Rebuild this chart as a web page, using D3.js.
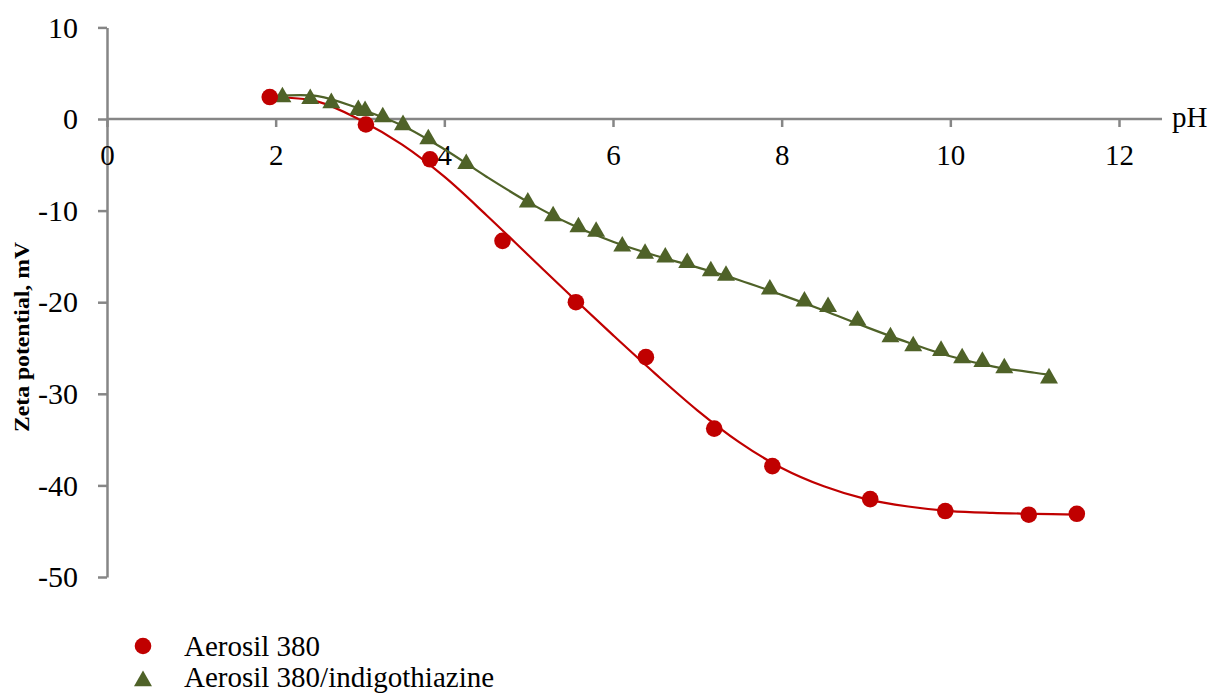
<!DOCTYPE html>
<html>
<head>
<meta charset="utf-8">
<script src="https://cdn.jsdelivr.net/npm/d3@7"></script>
<style>
  html, body { margin: 0; padding: 0; background: #fff; }
  svg { display: block; }
  text { font-family: "Liberation Serif", "Times New Roman", serif; fill: #000; }
</style>
</head>
<body>
<svg id="chart" width="1220" height="695"></svg>
<script>
// ---- data ----
const seriesNames = ["Aerosil 380", "Aerosil 380/indigothiazine"];

const aerosilPH   = [1.93, 3.07, 3.83, 4.69, 5.56, 6.39, 7.20, 7.89, 9.05, 9.94, 10.93, 11.50];
const aerosilZeta = [2.4, -0.6, -4.4, -13.3, -20.0, -26.0, -33.8, -37.9, -41.5, -42.8, -43.2, -43.1];

const indigoPH   = [2.08, 2.41, 2.66, 2.98, 3.06, 3.27, 3.51, 3.81, 4.26, 4.99, 5.29, 5.59, 5.80, 6.11, 6.38, 6.62, 6.88, 7.16, 7.34, 7.86, 8.27, 8.55, 8.90, 9.29, 9.56, 9.89, 10.14, 10.38, 10.64, 11.17];
const indigoZeta = [2.4, 2.2, 1.75, 1.0, 0.9, 0.2, -0.65, -2.2, -4.9, -9.1, -10.6, -11.8, -12.3, -13.9, -14.7, -15.1, -15.7, -16.6, -17.1, -18.6, -19.9, -20.5, -22.0, -23.8, -24.8, -25.3, -26.1, -26.5, -27.2, -28.3];

// fitted trend lines
const aerosilTrendPH   = [1.93, 2.5, 3.0, 3.5, 4.0, 4.5, 5.0, 5.5, 6.0, 6.5, 7.0, 7.5, 8.0, 8.5, 9.0, 9.5, 10.0, 10.5, 11.0, 11.5];
const aerosilTrendZeta = [2.4, 1.9, -0.1, -2.8, -6.3, -10.5, -14.9, -19.3, -23.6, -27.8, -31.8, -35.3, -38.1, -40.1, -41.5, -42.3, -42.8, -43.0, -43.1, -43.2];

const indigoTrendPH   = [2.0, 2.5, 3.0, 3.5, 4.0, 4.5, 5.0, 5.5, 6.0, 6.5, 7.0, 7.5, 8.0, 8.5, 9.0, 9.5, 10.0, 10.5, 11.0, 11.17];
const indigoTrendZeta = [2.5, 2.5, 1.1, -0.7, -3.3, -6.3, -9.1, -11.5, -13.4, -14.9, -16.2, -17.6, -19.2, -20.9, -22.7, -24.4, -25.9, -27.0, -27.7, -27.9];

const xTicks = [0, 2, 4, 6, 8, 10, 12];
const yTicks = [10, 0, -10, -20, -30, -40, -50];

const xAxisLabel = "pH";
const yAxisLabel = "Zeta potential, mV";

// ---- layout ----
const svg = d3.select("#chart");
const colors = { red: "#C00000", green: "#4F6228", axis: "#868686" };

const x = d3.scaleLinear().domain([0, 12]).range([107, 1119]);
const y = d3.scaleLinear().domain([-50, 10]).range([577, 27.4]);
const fmt = d => String(d);

// y axis
const yAxis = svg.append("g")
  .attr("transform", `translate(${x(0)},0)`)
  .call(d3.axisLeft(y).tickValues(yTicks).tickSize(9).tickSizeOuter(0).tickPadding(20).tickFormat(fmt));
yAxis.select(".domain").attr("stroke", colors.axis).attr("stroke-width", 2.5);
yAxis.selectAll(".tick line").attr("stroke", colors.axis).attr("stroke-width", 2.5);
yAxis.selectAll(".tick text").attr("font-size", 30).attr("font-family", "Liberation Serif, serif").attr("fill", "#000");

// x axis (crossing at 0)
const xAxis = svg.append("g")
  .attr("transform", `translate(0,${y(0)})`)
  .call(d3.axisBottom(x).tickValues(xTicks).tickSize(8).tickSizeOuter(0).tickPadding(17).tickFormat(fmt));
xAxis.select(".domain").remove();
xAxis.append("line")
  .attr("x1", x(0)).attr("x2", x(12.51)).attr("y1", 0).attr("y2", 0)
  .attr("stroke", colors.axis).attr("stroke-width", 2.5);
xAxis.selectAll(".tick line").attr("stroke", colors.axis).attr("stroke-width", 2.5);
xAxis.selectAll(".tick text").attr("font-size", 29).attr("font-family", "Liberation Serif, serif").attr("fill", "#000");

// axis titles
svg.append("text")
  .attr("x", x(12.51) + 10).attr("y", y(0) + 8)
  .attr("font-size", 29)
  .text(xAxisLabel);

svg.append("text")
  .attr("transform", `translate(29,337) rotate(-90)`)
  .attr("text-anchor", "middle")
  .attr("font-size", 21)
  .attr("font-weight", "bold")
  .attr("fill", "#111")
  .attr("textLength", 190)
  .attr("lengthAdjust", "spacingAndGlyphs")
  .text(yAxisLabel);

// trend lines
const line = d3.line().x(d => x(d[0])).y(d => y(d[1])).curve(d3.curveCatmullRom.alpha(0.5));
svg.append("path")
  .datum(indigoTrendPH.map((v, i) => [v, indigoTrendZeta[i]]))
  .attr("d", line).attr("fill", "none").attr("stroke", colors.green).attr("stroke-width", 2.2);
svg.append("path")
  .datum(aerosilTrendPH.map((v, i) => [v, aerosilTrendZeta[i]]))
  .attr("d", line).attr("fill", "none").attr("stroke", colors.red).attr("stroke-width", 2.2);

// markers
const tri = d3.symbol().type(d3.symbolTriangle).size(140);
svg.append("g").selectAll("path")
  .data(indigoPH.map((v, i) => [v, indigoZeta[i]]))
  .join("path")
  .attr("d", tri)
  .attr("transform", d => `translate(${x(d[0])},${y(d[1])})`)
  .attr("fill", colors.green);

svg.append("g").selectAll("circle")
  .data(aerosilPH.map((v, i) => [v, aerosilZeta[i]]))
  .join("circle")
  .attr("cx", d => x(d[0])).attr("cy", d => y(d[1])).attr("r", 8.3)
  .attr("fill", colors.red);

// legend
const legend = svg.append("g");
legend.append("circle").attr("cx", 143).attr("cy", 646).attr("r", 8.3).attr("fill", colors.red);
legend.append("path").attr("d", tri).attr("transform", "translate(143,681)").attr("fill", colors.green);
legend.append("text").attr("x", 184).attr("y", 656).attr("font-size", 29).text(seriesNames[0]);
legend.append("text").attr("x", 184).attr("y", 687).attr("font-size", 29).text(seriesNames[1]);
</script>
</body>
</html>
